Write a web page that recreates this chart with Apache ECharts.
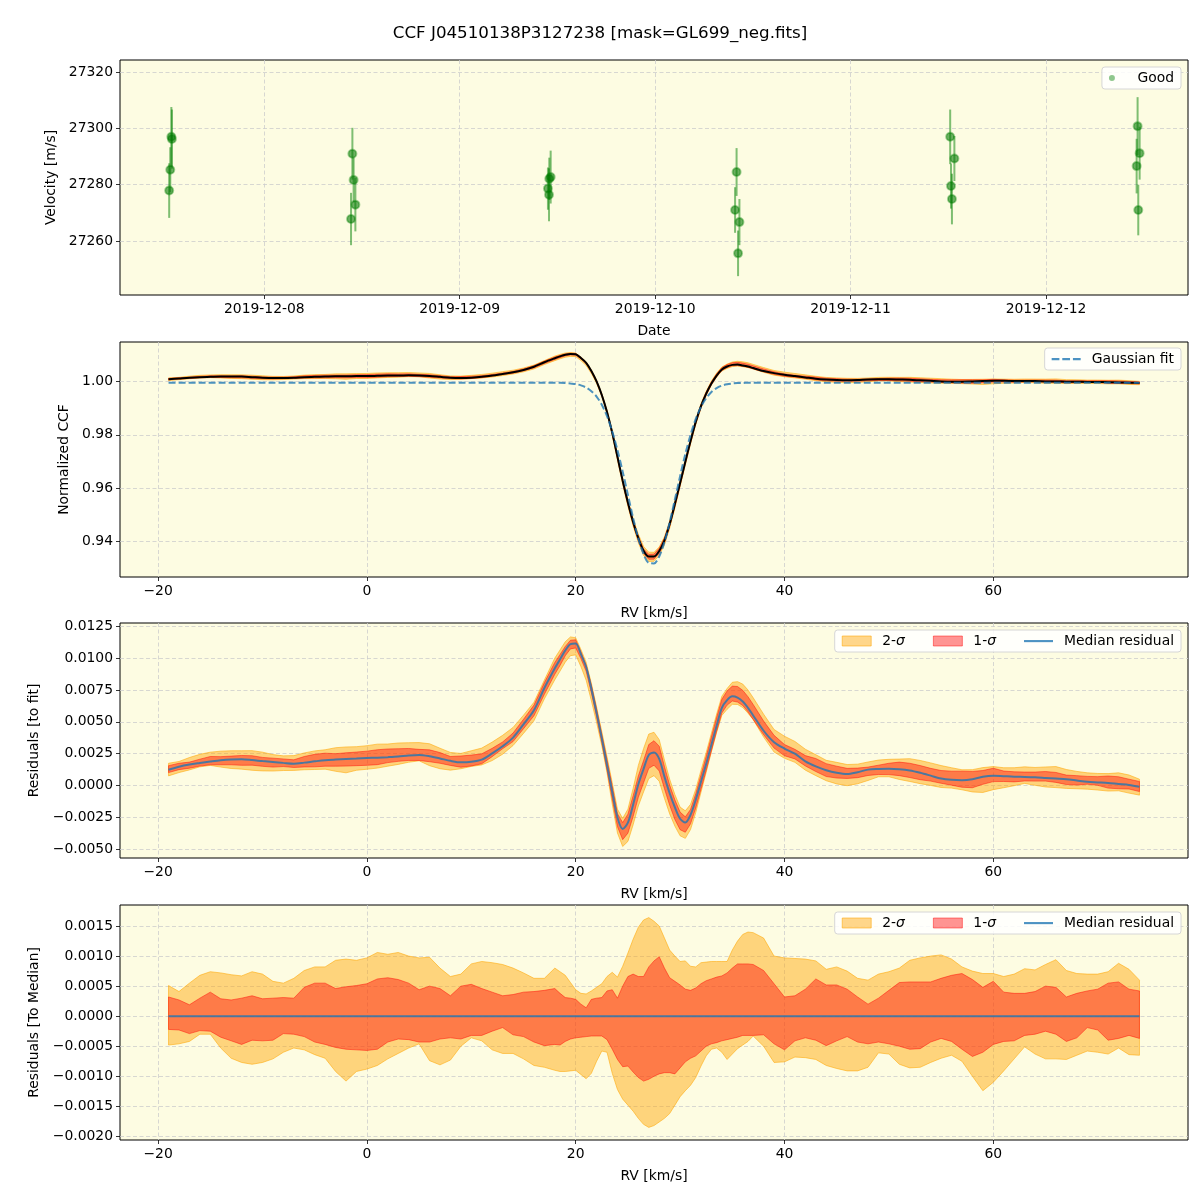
<!DOCTYPE html>
<html><head><meta charset="utf-8">
<script src="https://cdn.jsdelivr.net/npm/echarts@6/dist/echarts.min.js"></script>
<style>html,body{margin:0;padding:0;background:#fff}#c{width:1200px;height:1200px}</style>
</head><body><div id="c"></div>
<script>
// ---------- Panel 1: radial velocities ----------
const obsTimes = ['2019-12-07 12:19','2019-12-07 12:27','2019-12-07 12:35','2019-12-07 12:39',
  '2019-12-08 10:39','2019-12-08 10:49','2019-12-08 10:58','2019-12-08 11:11',
  '2019-12-09 10:50','2019-12-09 10:58','2019-12-09 11:00','2019-12-09 11:10',
  '2019-12-10 09:49','2019-12-10 10:00','2019-12-10 10:11','2019-12-10 10:21',
  '2019-12-11 12:14','2019-12-11 12:20','2019-12-11 12:27','2019-12-11 12:45',
  '2019-12-12 11:08','2019-12-12 11:15','2019-12-12 11:20','2019-12-12 11:30'];
const obsVel = [27277.9,27285.3,27297.0,27296.2, 27267.8,27291.0,27281.7,27272.9,
  27278.6,27276.4,27282.1,27282.7, 27271.0,27284.5,27255.6,27266.7,
  27297.0,27279.5,27274.9,27289.3, 27286.6,27300.8,27271.0,27291.2];
const obsErr = [9.7,8.0,10.6,10.5, 9.3,9.2,8.0,9.5, 7.5,9.4,7.5,9.4, 8.1,8.5,8.1,8.2, 9.7,8.0,9.0,8.0, 9.7,10.3,9.0,9.4];

// ---------- RV grid (km/s): 1 km/s steps, 0.5 km/s through the line core ----------
const rv = [-19,-18,-17,-16,-15,-14,-13,-12,-11,-10,-9,-8,-7,-6,-5,-4,-3,-2,-1,0,
  1,2,3,4,5,6,7,8,9,10,11,12,13,14,15,16,17,18,
  18.5,19,19.5,20,20.5,21,21.5,22,22.5,23,23.5,24,24.5,25,25.5,26,26.5,27,27.5,28,
  28.5,29,29.5,30,30.5,31,31.5,32,32.5,33,33.5,34,34.5,35,35.5,36,36.5,
  37,38,39,40,41,42,43,44,45,46,47,48,49,50,51,52,53,54,55,56,57,58,59,60,
  61,62,63,64,65,66,67,68,69,70,71,72,73,74];

// Panel 2: normalized CCF (median) and Gaussian fit
const ccf = [1.0009,1.0012,1.0015,1.0017,1.0018,1.0019,1.0019,1.0019,1.0017,1.0015,
  1.0014,1.0014,1.0015,1.0017,1.0018,1.0019,1.0020,1.0020,1.0021,1.0021,
  1.0022,1.0023,1.0023,1.0024,1.0023,1.0021,1.0018,1.0015,1.0014,1.0015,
  1.0018,1.0023,1.0029,1.0035,1.0044,1.0056,1.0073,1.0088,
  1.0095,1.0101,1.0104,1.0103,1.0089,1.0071,1.0040,1.0001,0.9950,0.9886,0.9808,0.9718,
  0.9628,0.9546,0.9473,0.9412,0.9365,0.9343,0.9343,0.9364,0.9404,0.9465,0.9540,0.9619,
  0.9699,0.9777,0.9849,0.9908,0.9955,0.9993,1.0023,1.0046,1.0057,1.0063,1.0064,1.0061,1.0057,
  1.0051,1.0040,1.0032,1.0026,
  1.0021,1.0016,1.0011,1.0008,1.0006,1.0005,1.0006,1.0008,1.0009,1.0009,
  1.0008,1.0007,1.0005,1.0003,1.0001,1.0000,1.0000,1.0001,1.0002,1.0003,
  1.0003,1.0002,1.0002,1.0002,1.0001,1.0001,1.0000,1.0000,0.9999,0.9999,
  0.9998,0.9997,0.9996,0.9995];
const gaussFit = [0.9996,0.9996,0.9996,0.9996,0.9996,0.9996,0.9996,0.9996,0.9996,0.9996,
  0.9996,0.9996,0.9996,0.9996,0.9996,0.9996,0.9996,0.9996,0.9996,0.9996,
  0.9996,0.9996,0.9996,0.9996,0.9996,0.9996,0.9996,0.9996,0.9996,0.9996,
  0.9996,0.9996,0.9996,0.9996,0.9996,0.9996,0.9996,0.9996,
  0.9996,0.9995,0.9993,0.9991,0.9986,0.9978,0.9964,0.9944,0.9913,0.9870,0.9813,0.9743,
  0.9662,0.9575,0.9488,0.9411,0.9352,0.9319,0.9317,0.9343,0.9397,0.9471,0.9557,0.9645,
  0.9728,0.9800,0.9860,0.9905,0.9938,0.9961,0.9976,0.9985,0.9990,0.9993,0.9995,0.9995,0.9996,
  0.9996,0.9996,0.9996,0.9996,
  0.9996,0.9996,0.9996,0.9996,0.9996,0.9996,0.9996,0.9996,0.9996,0.9996,
  0.9996,0.9996,0.9996,0.9996,0.9996,0.9996,0.9996,0.9996,0.9996,0.9996,
  0.9996,0.9996,0.9996,0.9996,0.9996,0.9996,0.9996,0.9996,0.9996,0.9996,
  0.9996,0.9996,0.9996,0.9996];

// Panel 3: median residual to the fit
const medianResid = [0.00124,0.00148,0.00165,0.00177,0.00188,0.00198,0.00204,0.00206,0.00200,0.00192,
  0.00185,0.00178,0.00172,0.00180,0.00190,0.00199,0.00204,0.00208,0.00212,0.00216,
  0.00219,0.00223,0.00228,0.00236,0.00240,0.00230,0.00213,0.00194,0.00182,0.00186,
  0.00203,0.00252,0.00308,0.00376,0.00480,0.00590,0.00765,0.00920,
  0.00990,0.01060,0.01110,0.01115,0.01030,0.00930,0.00760,0.00570,0.00370,0.00160,-0.00050,-0.00250,
  -0.00340,-0.00290,-0.00150,0.00010,0.00130,0.00240,0.00260,0.00210,0.00070,-0.00060,-0.00170,-0.00260,
  -0.00290,-0.00230,-0.00110,0.00030,0.00170,0.00320,0.00470,0.00610,0.00670,0.00700,0.00690,0.00660,0.00610,
  0.00550,0.00430,0.00340,0.00290,
  0.00250,0.00190,0.00150,0.00120,0.00100,0.00090,0.00105,0.00125,0.00130,0.00132,
  0.00128,0.00118,0.00100,0.00078,0.00055,0.00045,0.00042,0.00050,0.00070,0.00078,
  0.00074,0.00070,0.00068,0.00065,0.00060,0.00055,0.00050,0.00040,0.00030,0.00025,
  0.00020,0.00012,0.00005,-0.00010];

// Panel 4: spread about the median (sigma band edges)
const up2 = [0.00051,0.00041,0.00055,0.00068,0.00074,0.00072,0.00069,0.00067,0.00074,0.00070,
  0.00058,0.00055,0.00063,0.00076,0.00082,0.00082,0.00093,0.00095,0.00093,0.00097,
  0.00106,0.00103,0.00106,0.00100,0.00097,0.00098,0.00080,0.00066,0.00070,0.00087,
  0.00091,0.00089,0.00086,0.00080,0.00072,0.00063,0.00063,0.00080,
  0.00074,0.00068,0.00056,0.00044,0.00038,0.00037,0.00042,0.00048,0.00054,0.00066,0.00073,0.00065,
  0.00083,0.00105,0.00128,0.00148,0.00160,0.00164,0.00158,0.00150,0.00130,0.00110,0.00100,0.00091,
  0.00092,0.00083,0.00082,0.00089,0.00090,0.00091,0.00091,0.00091,0.00091,0.00110,0.00125,0.00136,0.00140,
  0.00139,0.00130,0.00100,0.00097,
  0.00096,0.00095,0.00092,0.00078,0.00082,0.00075,0.00063,0.00060,0.00070,0.00074,
  0.00080,0.00093,0.00097,0.00100,0.00102,0.00095,0.00082,0.00075,0.00071,0.00071,
  0.00066,0.00070,0.00079,0.00077,0.00086,0.00094,0.00076,0.00071,0.00070,0.00070,
  0.00074,0.00088,0.00078,0.00060];
const up1 = [0.00032,0.00027,0.00019,0.00030,0.00040,0.00029,0.00027,0.00030,0.00034,0.00029,
  0.00030,0.00031,0.00030,0.00048,0.00055,0.00055,0.00046,0.00049,0.00051,0.00054,
  0.00062,0.00064,0.00061,0.00055,0.00044,0.00050,0.00046,0.00034,0.00050,0.00053,
  0.00046,0.00040,0.00034,0.00036,0.00040,0.00041,0.00043,0.00046,
  0.00038,0.00031,0.00030,0.00028,0.00020,0.00014,0.00028,0.00030,0.00031,0.00042,0.00044,0.00030,
  0.00050,0.00066,0.00070,0.00066,0.00066,0.00082,0.00092,0.00099,0.00080,0.00064,0.00058,0.00052,
  0.00045,0.00043,0.00047,0.00054,0.00059,0.00062,0.00065,0.00067,0.00072,0.00080,0.00087,0.00087,0.00087,
  0.00086,0.00076,0.00054,0.00032,
  0.00034,0.00045,0.00062,0.00052,0.00052,0.00045,0.00032,0.00020,0.00030,0.00043,
  0.00056,0.00057,0.00057,0.00057,0.00063,0.00068,0.00071,0.00061,0.00048,0.00058,
  0.00040,0.00038,0.00038,0.00041,0.00050,0.00048,0.00032,0.00038,0.00042,0.00045,
  0.00055,0.00057,0.00045,0.00042];
const lo1 = [-0.00022,-0.00023,-0.00029,-0.00024,-0.00025,-0.00035,-0.00041,-0.00047,-0.00040,-0.00041,
  -0.00040,-0.00029,-0.00030,-0.00034,-0.00043,-0.00047,-0.00052,-0.00055,-0.00056,-0.00057,
  -0.00055,-0.00043,-0.00038,-0.00039,-0.00043,-0.00043,-0.00038,-0.00036,-0.00038,-0.00032,
  -0.00032,-0.00025,-0.00019,-0.00031,-0.00034,-0.00043,-0.00049,-0.00047,
  -0.00048,-0.00042,-0.00038,-0.00036,-0.00035,-0.00034,-0.00033,-0.00033,-0.00033,-0.00039,-0.00055,-0.00072,
  -0.00084,-0.00083,-0.00093,-0.00102,-0.00108,-0.00105,-0.00100,-0.00096,-0.00094,-0.00094,-0.00096,-0.00086,
  -0.00076,-0.00070,-0.00066,-0.00058,-0.00050,-0.00046,-0.00044,-0.00041,-0.00039,-0.00037,-0.00035,-0.00032,-0.00032,
  -0.00032,-0.00031,-0.00046,-0.00056,
  -0.00041,-0.00036,-0.00040,-0.00049,-0.00041,-0.00034,-0.00043,-0.00046,-0.00043,-0.00046,
  -0.00050,-0.00055,-0.00054,-0.00043,-0.00037,-0.00042,-0.00055,-0.00067,-0.00060,-0.00047,
  -0.00042,-0.00041,-0.00032,-0.00030,-0.00025,-0.00030,-0.00042,-0.00036,-0.00019,-0.00023,
  -0.00040,-0.00037,-0.00032,-0.00037];
const lo2 = [-0.00048,-0.00046,-0.00042,-0.00030,-0.00030,-0.00053,-0.00070,-0.00077,-0.00080,-0.00077,
  -0.00071,-0.00060,-0.00053,-0.00056,-0.00064,-0.00070,-0.00092,-0.00108,-0.00092,-0.00088,
  -0.00082,-0.00071,-0.00062,-0.00053,-0.00046,-0.00074,-0.00081,-0.00073,-0.00050,-0.00036,
  -0.00041,-0.00056,-0.00062,-0.00062,-0.00071,-0.00082,-0.00085,-0.00090,
  -0.00092,-0.00092,-0.00091,-0.00090,-0.00097,-0.00104,-0.00095,-0.00075,-0.00058,-0.00060,-0.00095,-0.00122,
  -0.00138,-0.00148,-0.00158,-0.00170,-0.00180,-0.00185,-0.00182,-0.00176,-0.00170,-0.00162,-0.00148,-0.00134,
  -0.00124,-0.00115,-0.00102,-0.00083,-0.00066,-0.00055,-0.00053,-0.00060,-0.00072,-0.00063,-0.00054,-0.00048,-0.00042,
  -0.00033,-0.00050,-0.00077,-0.00076,
  -0.00068,-0.00069,-0.00072,-0.00082,-0.00087,-0.00091,-0.00091,-0.00085,-0.00061,-0.00063,
  -0.00080,-0.00086,-0.00085,-0.00077,-0.00070,-0.00065,-0.00075,-0.00100,-0.00124,-0.00110,
  -0.00091,-0.00071,-0.00051,-0.00063,-0.00071,-0.00071,-0.00072,-0.00065,-0.00058,-0.00060,
  -0.00063,-0.00053,-0.00064,-0.00065];
const medianToMedian = [[-19, 0], [74, 0]];

// ---------- helpers ----------
const FONT = 'DejaVu Sans';
const FS = 13.9;
function parseLocal(s){
  const [d,t] = s.split(' ');
  const [Y,M,D] = d.split('-').map(Number);
  const [h,m,sec] = (t||'0:0').split(':').map(Number);
  return new Date(Y, M-1, D, h, m, sec||0).getTime();
}
const pad2 = n => (n<10?'0':'') + n;
function fmtDate(v){ const d = new Date(v); return d.getFullYear()+'-'+pad2(d.getMonth()+1)+'-'+pad2(d.getDate()); }
const minus = s => String(s).replace('-', '\u2212');

const gridLine = {show:true, showMinLine:false, showMaxLine:false, lineStyle:{color:'#cdcdcd', type:[4,2.5], width:0.8}};
const tick = {show:true, length:4, lineStyle:{color:'#000', width:0.8}};
const lblBase = {color:'#000', fontFamily:FONT, fontSize:FS, margin:7, showMinLabel:false, showMaxLabel:false};
const nameStyle = {color:'#000', fontFamily:FONT, fontSize:FS};

function valAxis(gi, min, max, step, dec, extra){
  return Object.assign({
    type:'value', gridIndex:gi, min:min, max:max, minInterval:step, maxInterval:step,
    splitNumber: Math.round((max-min)/step), scale:true,
    axisLine:{show:false, onZero:false}, axisTick:tick,
    axisLabel:Object.assign({}, lblBase, {formatter: v => minus(v.toFixed(dec))}),
    splitLine:gridLine, nameTextStyle:nameStyle
  }, extra||{});
}

function band(name, xi, yi, upper, lower, fill, stroke, z){
  return {
    type:'custom', name:name, xAxisIndex:xi, yAxisIndex:yi, z:z, silent:true,
    itemStyle:{color:fill},
    data:[upper[0]],
    renderItem:function(params, api){
      const p = upper.map(q => api.coord(q)).concat(lower.slice().reverse().map(q => api.coord(q)));
      return {type:'polygon', shape:{points:p}, style:{fill:fill, stroke:stroke, lineWidth:1}};
    }
  };
}

const C2 = 'rgba(255,165,0,0.45)', C2e = 'rgba(255,165,0,0.55)';
const C1 = 'rgba(255,0,0,0.42)',  C1e = 'rgba(255,0,0,0.45)';
const BLUE = 'rgba(31,119,180,0.8)';
const LINE_ICON = 'path://M0,0L0,0M0,4H30V6.2H0ZM30,10L30,10';
const DASH_ICON = 'path://M0,0L0,0M0,4H8V6.2H0ZM11,4H19V6.2H11ZM22,4H30V6.2H22ZM30,10L30,10';

const pts = (ys, offs) => rv.map((r,i) => [r, offs ? ys[i] + offs[i] : ys[i]]);

// ---------- grids ----------
const grids = [60, 342, 623, 905].map(t => ({left:120, width:1068, top:t, height:235, show:true,
  backgroundColor:'#fdfce2', borderColor:'#000', borderWidth:1, containLabel:false}));

const legendBase = {
  orient:'horizontal', right:19, backgroundColor:'rgba(255,255,255,0.85)', borderColor:'#d6d6d6',
  borderWidth:1, borderRadius:3, padding:[4,7,4,7], itemWidth:29, itemHeight:10, itemGap:28,
  selectedMode:false,
  textStyle:{color:'#000', fontFamily:FONT, fontSize:FS, padding:[0,0,0,6],
    rich:{s:{fontStyle:'italic', fontFamily:FONT, fontSize:FS, color:'#000'}}},
  formatter: n => n.replace('σ', '{s|σ}')
};
const sigLegendData = [
  {name:'2-σ', icon:'rect', itemStyle:{color:C2, borderColor:C2e, borderWidth:1}},
  {name:'1-σ', icon:'rect', itemStyle:{color:C1, borderColor:C1e, borderWidth:1}},
  {name:'Median residual', icon:LINE_ICON, itemStyle:{color:BLUE, borderWidth:0}}
];

const option = {
  animation:false,
  backgroundColor:'#ffffff',
  title:{text:'CCF J04510138P3127238 [mask=GL699_neg.fits]', left:'center', top:20,
    textStyle:{fontFamily:FONT, fontSize:16.7, fontWeight:'normal', color:'#000'}},
  grid:grids,
  legend:[
    Object.assign({}, legendBase, {top:67, itemHeight:6,
      data:[{name:'Good', icon:'circle', itemStyle:{color:'rgba(0,128,0,0.55)', borderWidth:0}}]}),
    Object.assign({}, legendBase, {top:348,
      data:[{name:'Gaussian fit', icon:DASH_ICON, itemStyle:{color:BLUE, borderWidth:0}}]}),
    Object.assign({}, legendBase, {top:630, data:sigLegendData}),
    Object.assign({}, legendBase, {top:912, data:sigLegendData})
  ],
  xAxis:[
    {type:'time', gridIndex:0, min:parseLocal('2019-12-07 06:16:34'), max:parseLocal('2019-12-12 17:26:27'),
     minInterval:864e5, maxInterval:864e5, splitNumber:5,
     axisLine:{show:false, onZero:false}, axisTick:tick,
     axisLabel:Object.assign({}, lblBase, {formatter: v => fmtDate(v)}),
     splitLine:gridLine, name:'Date', nameLocation:'middle', nameGap:29, nameTextStyle:nameStyle},
    valAxis(1, -23.65, 78.65, 20, 0, {name:'RV [km/s]', nameLocation:'middle', nameGap:29}),
    valAxis(2, -23.65, 78.65, 20, 0, {name:'RV [km/s]', nameLocation:'middle', nameGap:29}),
    valAxis(3, -23.65, 78.65, 20, 0, {name:'RV [km/s]', nameLocation:'middle', nameGap:29})
  ],
  yAxis:[
    valAxis(0, 27240.8, 27324.3, 20, 0, {name:'Velocity [m/s]', nameLocation:'middle', nameGap:57}),
    valAxis(1, 0.9266, 1.0149, 0.02, 2, {name:'Normalized CCF', nameLocation:'middle', nameGap:43}),
    valAxis(2, -0.00568, 0.01275, 0.0025, 4, {name:'Residuals [to fit]', nameLocation:'middle', nameGap:73}),
    valAxis(3, -0.00206, 0.00185, 0.0005, 4, {name:'Residuals [To Median]', nameLocation:'middle', nameGap:73})
  ],
  series:[
    // panel 1
    {type:'custom', name:'errbars', xAxisIndex:0, yAxisIndex:0, z:2, silent:true,
     data: obsTimes.map((t,i) => [parseLocal(t), obsVel[i], obsErr[i]]),
     renderItem:function(params, api){
       const x = api.value(0), y = api.value(1), e = api.value(2);
       const a = api.coord([x, y - e]), b = api.coord([x, y + e]);
       return {type:'line', shape:{x1:a[0], y1:a[1], x2:b[0], y2:b[1]},
               style:{stroke:'rgba(0,128,0,0.5)', lineWidth:2}};
     }},
    {type:'scatter', name:'Good', xAxisIndex:0, yAxisIndex:0, z:3, symbolSize:8,
     itemStyle:{color:'rgba(0,120,0,0.72)', borderColor:'rgba(0,128,0,0.45)', borderWidth:2},
     data: obsTimes.map((t,i) => [parseLocal(t), obsVel[i]])},
    // panel 2
    band('ccf2s', 1, 1, pts(ccf, up2), pts(ccf, lo2), C2, C2e, 2),
    band('ccf1s', 1, 1, pts(ccf, up1), pts(ccf, lo1), C1, C1e, 3),
    {type:'line', name:'CCF', xAxisIndex:1, yAxisIndex:1, z:4, showSymbol:false, symbol:'none', smooth:0.3,
     lineStyle:{color:'#000', width:2}, itemStyle:{color:'#000'}, data:pts(ccf)},
    {type:'line', name:'Gaussian fit', xAxisIndex:1, yAxisIndex:1, z:5, showSymbol:false, symbol:'none', smooth:0.3,
     lineStyle:{color:BLUE, width:2, type:[7,3]}, itemStyle:{color:BLUE}, data:pts(gaussFit)},
    // panel 3
    band('2-σ', 2, 2, pts(medianResid, up2), pts(medianResid, lo2), C2, C2e, 2),
    band('1-σ', 2, 2, pts(medianResid, up1), pts(medianResid, lo1), C1, C1e, 3),
    {type:'line', name:'Median residual', xAxisIndex:2, yAxisIndex:2, z:4, showSymbol:false, symbol:'none', smooth:0.3,
     lineStyle:{color:BLUE, width:2}, itemStyle:{color:BLUE}, data:pts(medianResid)},
    // panel 4
    band('2-σ', 3, 3, pts(up2), pts(lo2), C2, C2e, 2),
    band('1-σ', 3, 3, pts(up1), pts(lo1), C1, C1e, 3),
    {type:'line', name:'Median residual', xAxisIndex:3, yAxisIndex:3, z:4, showSymbol:false, symbol:'none',
     lineStyle:{color:BLUE, width:2}, itemStyle:{color:BLUE}, data:medianToMedian}
  ]
};

const chart = echarts.init(document.getElementById('c'), null, {renderer:'canvas'});
chart.setOption(option);
</script>
</body></html>
